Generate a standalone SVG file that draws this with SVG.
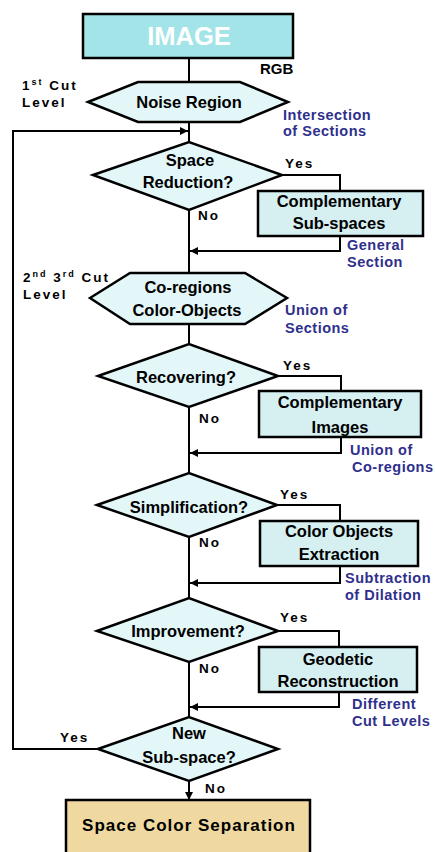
<svg xmlns="http://www.w3.org/2000/svg" width="435" height="852" viewBox="0 0 435 852">
<defs>
<marker id="ah" viewBox="0 0 10 10" refX="10" refY="5" markerWidth="4" markerHeight="4" orient="auto" markerUnits="strokeWidth">
<path d="M0,0 L10,5 L0,10 z" fill="#000"/>
</marker>
<style>
.shape{fill:#e3f7f8;stroke:#000;stroke-width:2.5;stroke-linejoin:miter}
.box{fill:#d6eff1;stroke:#000;stroke-width:2.5}
.con{fill:none;stroke:#000;stroke-width:2}
.t{font-family:"Liberation Sans",Arial,sans-serif;font-weight:bold;font-size:16.5px;fill:#000;text-anchor:middle}
.lbl{font-family:"Liberation Sans",Arial,sans-serif;font-weight:bold;font-size:13.5px;fill:#000;letter-spacing:2px}
.note{font-family:"Liberation Sans",Arial,sans-serif;font-weight:bold;font-size:14.5px;fill:#2f2f8c;letter-spacing:0.5px}
</style>
</defs>
<rect width="435" height="852" fill="#fff"/>

<g id="connectors">
<line class="con" x1="189" y1="58" x2="189" y2="82"/>
<line class="con" x1="189" y1="122" x2="189" y2="142"/>
<line class="con" x1="189" y1="210" x2="189" y2="273"/>
<line class="con" x1="189" y1="324" x2="189" y2="344"/>
<line class="con" x1="189" y1="407" x2="189" y2="473"/>
<line class="con" x1="189" y1="537" x2="189" y2="598"/>
<line class="con" x1="189" y1="662" x2="189" y2="717"/>
<line class="con" x1="189" y1="781" x2="189" y2="800" marker-end="url(#ah)"/>
<polyline class="con" points="282,175 340,175 340,191"/>
<polyline class="con" points="278,376 341,376 341,391"/>
<polyline class="con" points="277,505 340,505 340,521"/>
<polyline class="con" points="278,631 339,631 339,647"/>
<polyline class="con" points="340,236 340,251 190,251" marker-end="url(#ah)"/>
<polyline class="con" points="341,437 341,453 190,453" marker-end="url(#ah)"/>
<polyline class="con" points="340,566 340,583 190,583" marker-end="url(#ah)"/>
<polyline class="con" points="339,692 339,707 190,707" marker-end="url(#ah)"/>
<polyline class="con" points="98,749 13,749 13,131 188,131" marker-end="url(#ah)"/>
</g>

<g id="image">
<rect x="83" y="14" width="210" height="44" fill="#a3e4e8" stroke="#000" stroke-width="2.5"/>
<text x="189" y="45" font-family="Liberation Sans, Arial, sans-serif" font-weight="bold" font-size="25.5" fill="#fff" text-anchor="middle">IMAGE</text>
<text x="260" y="74" font-family="Liberation Sans, Arial, sans-serif" font-weight="bold" font-size="15" fill="#000">RGB</text>
</g>

<g id="level1">
<text class="lbl" x="22" y="90">1<tspan font-size="9" dy="-5">st</tspan><tspan dy="5"> Cut</tspan></text>
<text class="lbl" x="22" y="107">Level</text>
</g>

<g id="noise-region">
<polygon class="shape" points="88,102 138,82 240,82 288,102 240,122 138,122"/>
<text class="t" x="189" y="108">Noise Region</text>
<text class="note" x="283" y="120">Intersection</text>
<text class="note" x="283" y="136">of Sections</text>
</g>

<g id="space-reduction">
<polygon class="shape" points="93,175 189,142 282,175 189,210"/>
<text class="t" x="190" y="166">Space</text>
<text class="t" x="188" y="188">Reduction?</text>
<text class="lbl" x="285" y="168" letter-spacing="3">Yes</text>
<text class="lbl" x="198" y="220">No</text>
</g>

<g id="complementary-subspaces">
<rect class="box" x="258" y="191" width="165" height="45"/>
<text class="t" x="339" y="207">Complementary</text>
<text class="t" x="339" y="229">Sub-spaces</text>
<text class="note" x="347" y="250">General</text>
<text class="note" x="347" y="267">Section</text>
</g>

<g id="level23">
<text class="lbl" x="23" y="282">2<tspan font-size="9" dy="-5">nd</tspan><tspan dy="5"> 3</tspan><tspan font-size="9" dy="-5">rd</tspan><tspan dy="5"> Cut</tspan></text>
<text class="lbl" x="23" y="299">Level</text>
</g>

<g id="co-regions">
<polygon class="shape" points="90,298 130,273 245,273 287,298 245,324 130,324"/>
<text class="t" x="188" y="293">Co-regions</text>
<text class="t" x="187" y="316">Color-Objects</text>
<text class="note" x="285" y="315">Union of</text>
<text class="note" x="285" y="333">Sections</text>
</g>

<g id="recovering">
<polygon class="shape" points="98,376 189,344 278,376 189,407"/>
<text class="t" x="186" y="383">Recovering?</text>
<text class="lbl" x="283" y="370" letter-spacing="3">Yes</text>
<text class="lbl" x="199" y="423">No</text>
</g>

<g id="complementary-images">
<rect class="box" x="259" y="391" width="162" height="46"/>
<text class="t" x="340" y="408">Complementary</text>
<text class="t" x="340" y="433">Images</text>
<text class="note" x="350" y="455">Union of</text>
<text class="note" x="352" y="472">Co-regions</text>
</g>

<g id="simplification">
<polygon class="shape" points="97,505 189,473 277,505 189,537"/>
<text class="t" x="189" y="513">Simplification?</text>
<text class="lbl" x="280" y="499" letter-spacing="3">Yes</text>
<text class="lbl" x="199" y="547">No</text>
</g>

<g id="color-objects-extraction">
<rect class="box" x="260" y="521" width="158" height="45"/>
<text class="t" x="339" y="537">Color Objects</text>
<text class="t" x="339" y="560">Extraction</text>
<text class="note" x="345" y="583">Subtraction</text>
<text class="note" x="345" y="600">of Dilation</text>
</g>

<g id="improvement">
<polygon class="shape" points="97,631 189,598 278,631 189,662"/>
<text class="t" x="188" y="637">Improvement?</text>
<text class="lbl" x="280" y="622" letter-spacing="3">Yes</text>
<text class="lbl" x="199" y="673">No</text>
</g>

<g id="geodetic-reconstruction">
<rect class="box" x="259" y="647" width="158" height="45"/>
<text class="t" x="338" y="665">Geodetic</text>
<text class="t" x="338" y="687">Reconstruction</text>
<text class="note" x="352" y="709">Different</text>
<text class="note" x="352" y="726">Cut Levels</text>
</g>

<g id="new-subspace">
<polygon class="shape" points="98,749 189,717 278,749 189,781"/>
<text class="t" x="189" y="739">New</text>
<text class="t" x="189" y="763">Sub-space?</text>
<text class="lbl" x="60" y="742" letter-spacing="3">Yes</text>
<text class="lbl" x="205" y="793">No</text>
</g>

<g id="space-color-separation">
<rect x="66" y="800" width="244" height="60" fill="#efd9a0" stroke="#000" stroke-width="2.5"/>
<text x="189" y="831" font-family="Liberation Sans, Arial, sans-serif" font-weight="bold" font-size="17" letter-spacing="1" fill="#000" text-anchor="middle">Space Color Separation</text>
</g>
</svg>
